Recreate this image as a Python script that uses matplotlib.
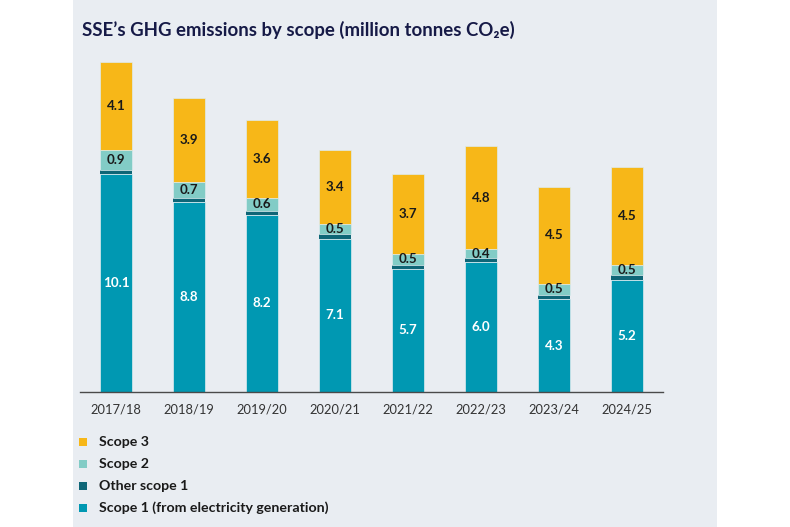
import matplotlib
matplotlib.use("Agg")
import matplotlib.pyplot as plt
from matplotlib.patches import Rectangle

plt.rcParams['font.family'] = ['Lato', 'DejaVu Sans']

years = ["2017/18", "2018/19", "2019/20", "2020/21", "2021/22", "2022/23", "2023/24", "2024/25"]
scope1_gen = [10.1, 8.8, 8.2, 7.1, 5.7, 6.0, 4.3, 5.2]
other_scope1 = [0.2, 0.2, 0.2, 0.2, 0.2, 0.2, 0.2, 0.2]
scope2 = [0.9, 0.7, 0.6, 0.5, 0.5, 0.4, 0.5, 0.5]
scope3 = [4.1, 3.9, 3.6, 3.4, 3.7, 4.8, 4.5, 4.5]

C_S1 = "#0098B2"
C_O1 = "#0E6677"
C_S2 = "#82CCC6"
C_S3 = "#F7B718"
PANEL = "#E9EDF2"
TXT = "#1A1A1A"

W, H = 790, 527
fig = plt.figure(figsize=(W / 100, H / 100), dpi=100, facecolor="white")

# background panel
fig.patches.append(Rectangle((73 / W, 0), (717 - 73) / W, 1, transform=fig.transFigure,
                             facecolor=PANEL, edgecolor="none", zorder=-5))

ax_left, ax_right = 80, 663
ax_bottom, ax_top = 392, 50
ax = fig.add_axes([ax_left / W, (H - ax_bottom) / H, (ax_right - ax_left) / W, (ax_bottom - ax_top) / H])
ax.set_facecolor("none")
ax.set_zorder(1)

x = list(range(len(years)))
bw = 0.438
ek = dict(edgecolor="#DDEBEE", linewidth=0.5)
b1 = ax.bar(x, scope1_gen, bw, color=C_S1, **ek)
bot2 = [a for a in scope1_gen]
b2 = ax.bar(x, other_scope1, bw, bottom=bot2, color=C_O1, linewidth=0)
bot3 = [a + b for a, b in zip(scope1_gen, other_scope1)]
b3 = ax.bar(x, scope2, bw, bottom=bot3, color=C_S2, **ek)
bot4 = [a + b for a, b in zip(bot3, scope2)]
b4 = ax.bar(x, scope3, bw, bottom=bot4, color=C_S3, **ek)

for i in x:
    ax.text(i, scope1_gen[i] / 2, f"{scope1_gen[i]:.1f}", ha="center", va="center",
            color="white", fontsize=9.6, fontweight="bold")
    ax.text(i, bot3[i] + scope2[i] / 2, f"{scope2[i]:.1f}", ha="center", va="center",
            color=TXT, fontsize=9.6, fontweight="bold")
    ax.text(i, bot4[i] + scope3[i] / 2, f"{scope3[i]:.1f}", ha="center", va="center",
            color=TXT, fontsize=9.6, fontweight="bold")

ax.set_xlim(-0.493, 7.493)
ax.set_ylim(0, (ax_bottom - ax_top) / 21.6)
ax.set_xticks(x)
ax.set_xticklabels(years, fontsize=9.3, color="#333333")
ax.tick_params(axis="x", length=0, pad=8)
ax.set_yticks([])
for s in ["top", "right", "left"]:
    ax.spines[s].set_visible(False)
ax.spines["bottom"].set_color("#4A4A4A")
ax.spines["bottom"].set_linewidth(1.0)

# title
fig.text(82 / W, 1 - 30 / H, "SSE\u2019s GHG emissions by scope (million tonnes CO\u2082e)",
         ha="left", va="center", fontsize=13.4, fontweight="bold", color="#161A47",
         family=['Lato', 'DejaVu Sans'])

# legend
labels = ["Scope 3", "Scope 2", "Other scope 1", "Scope 1 (from electricity generation)"]
colors = [C_S3, C_S2, C_O1, C_S1]
ys = [442, 464, 486, 508]
for lab, col, yy in zip(labels, colors, ys):
    fig.patches.append(Rectangle((79 / W, 1 - (yy + 4) / H), 8 / W, 8 / H, transform=fig.transFigure,
                                 facecolor=col, edgecolor="none", zorder=2))
    fig.text(99 / W, 1 - yy / H, lab, ha="left", va="center", fontsize=10.2,
             fontweight="bold", color=TXT)

fig.savefig("out.png", dpi=100, facecolor="white")
